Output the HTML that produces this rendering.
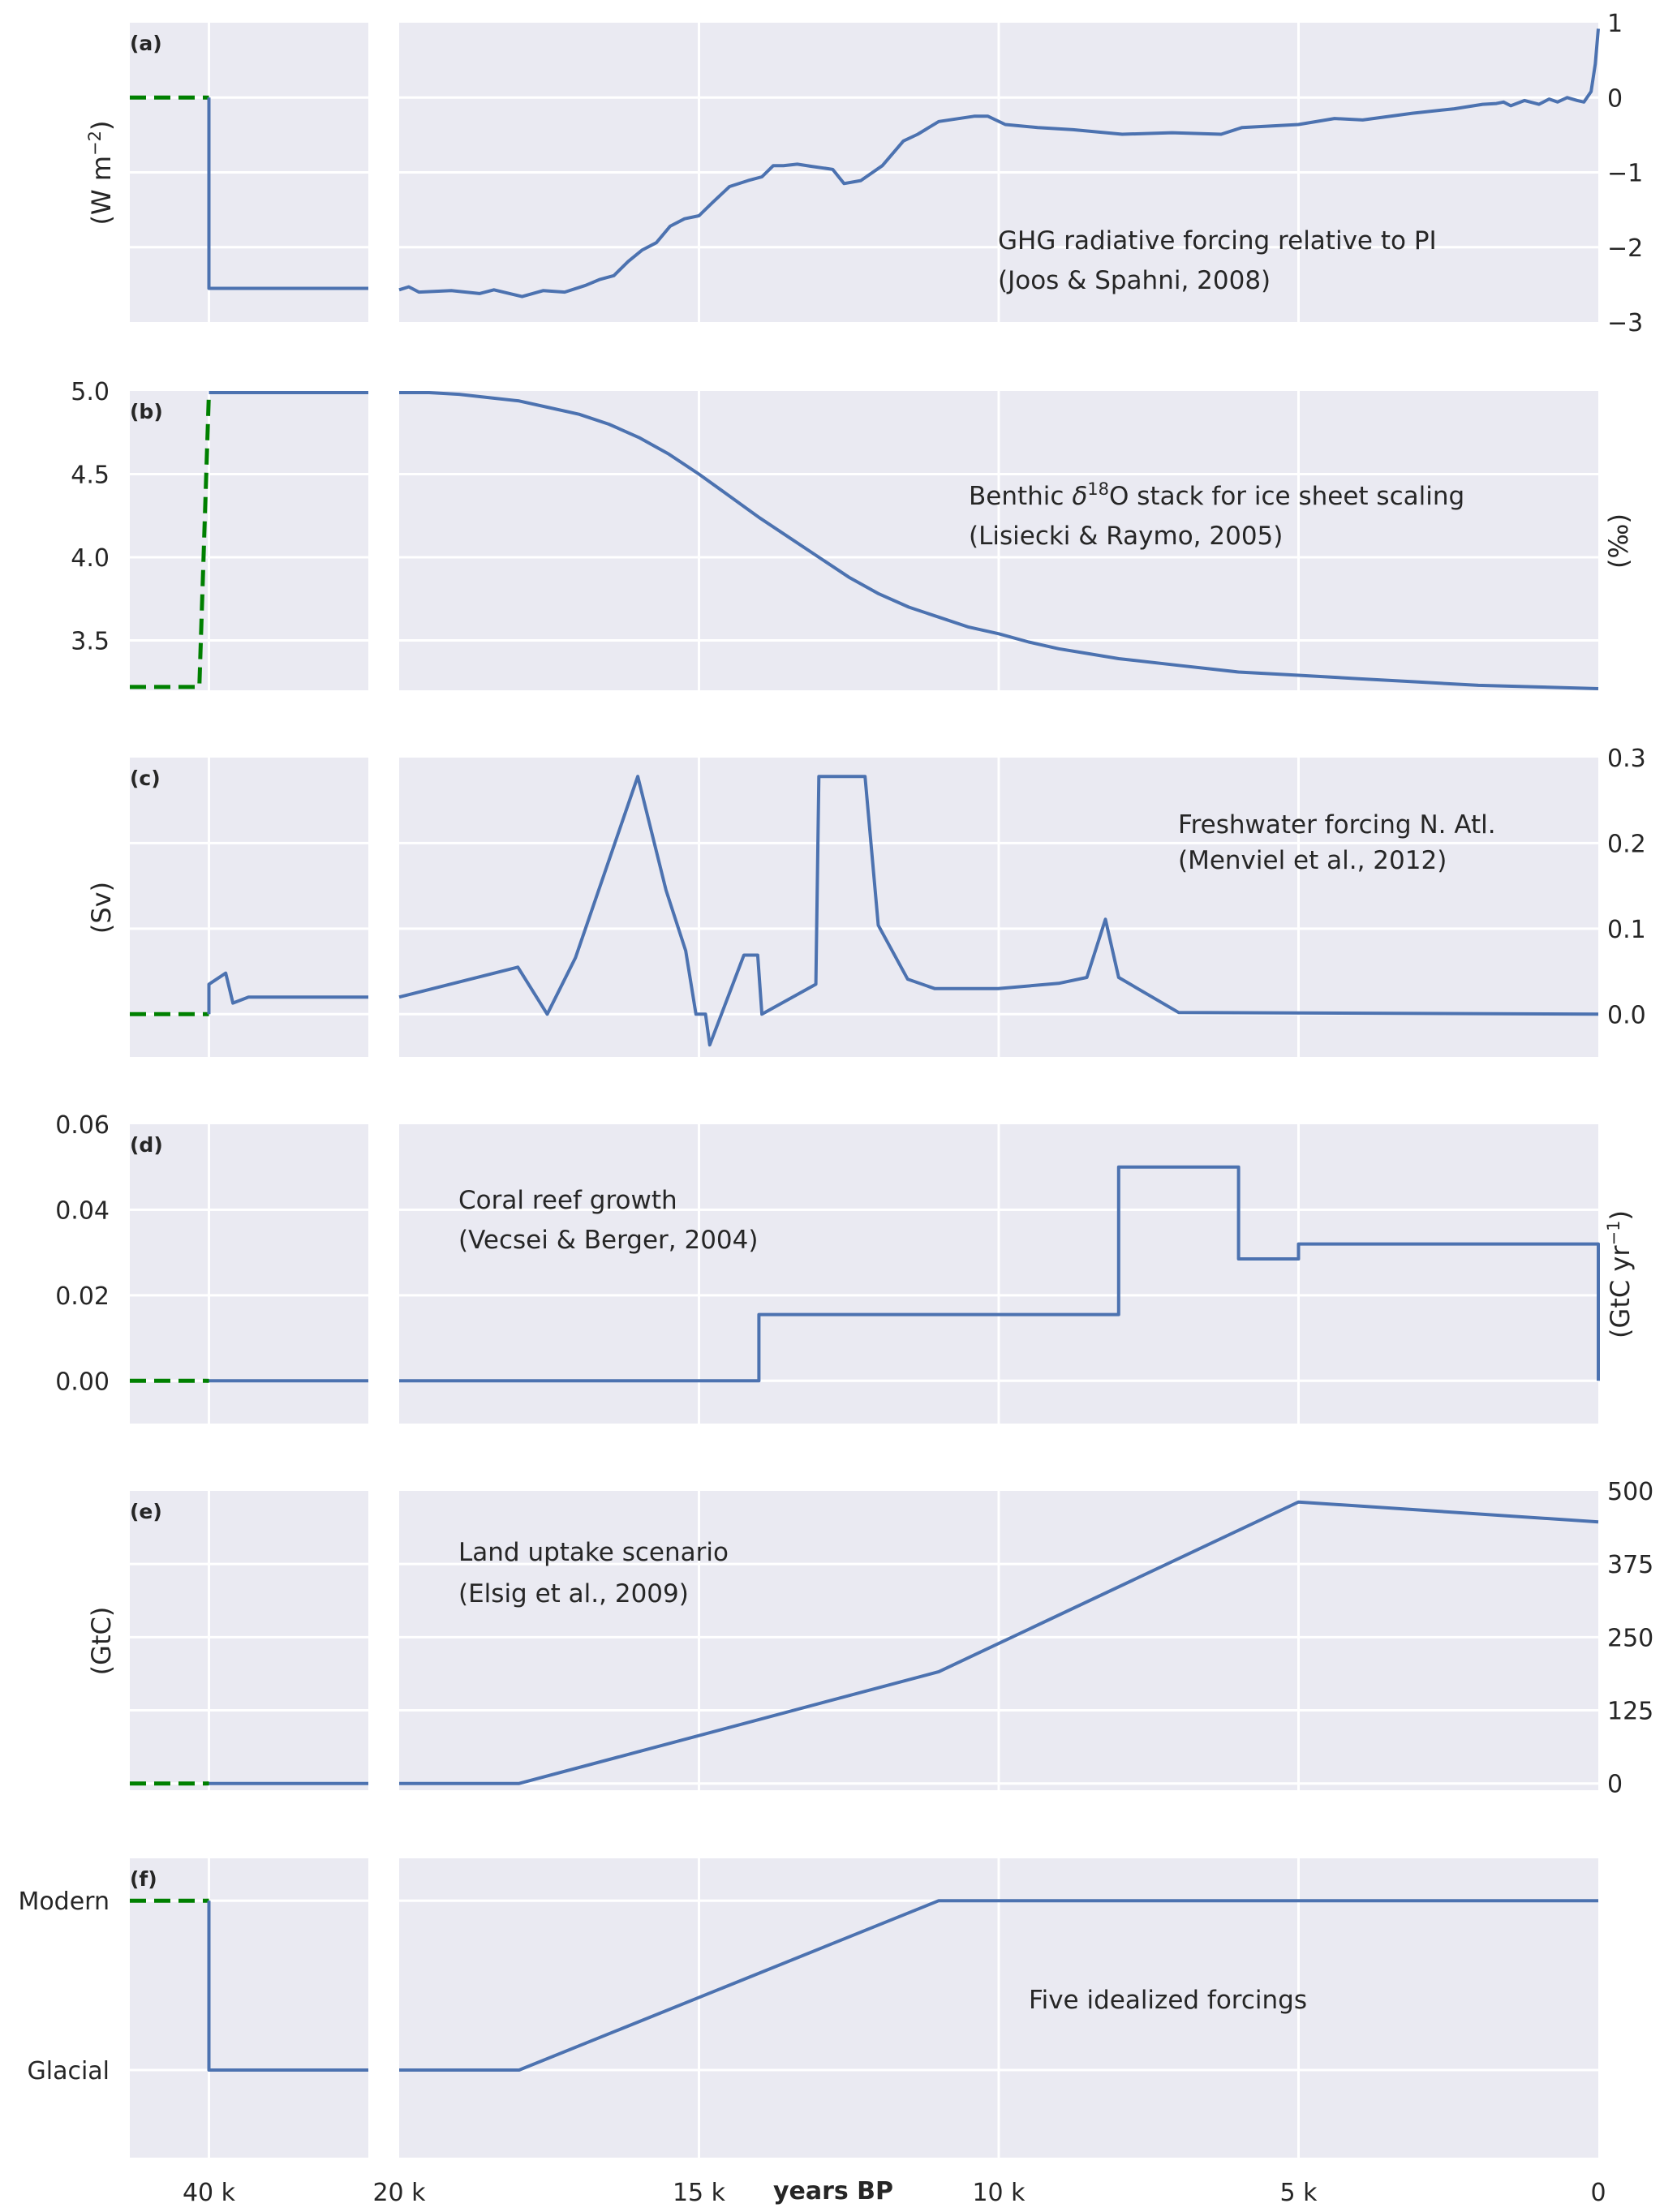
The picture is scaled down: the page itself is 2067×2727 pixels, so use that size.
<!DOCTYPE html>
<html><head><meta charset="utf-8"><style>
html,body{margin:0;padding:0;background:#fff}
svg text{font-family:"DejaVu Sans","Liberation Sans",sans-serif;fill:#262626}
</style></head><body>
<svg id="fig" xmlns="http://www.w3.org/2000/svg" width="2067" height="2727" viewBox="0 0 2067 2727" style="position:absolute;left:0;top:0"></svg>
<script>
// ---- data (time in kyr BP) ----
const ghgT = [20,19.84,19.67,19.13,18.66,18.42,17.95,17.6,17.24,16.89,16.65,16.42,16.18,15.95,15.71,15.48,15.24,15.0,14.77,14.49,14.18,13.95,13.76,13.59,13.36,13.12,12.77,12.58,12.3,11.94,11.59,11.35,11.0,10.41,10.18,9.89,9.35,8.76,7.94,7.11,6.29,5.94,5.0,4.4,3.93,3.1,2.4,1.93,1.7,1.58,1.46,1.23,0.99,0.82,0.68,0.52,0.35,0.24,0.12,0.05,0];
const ghgV = [-2.57,-2.53,-2.6,-2.58,-2.62,-2.57,-2.66,-2.58,-2.6,-2.51,-2.43,-2.38,-2.19,-2.04,-1.94,-1.72,-1.62,-1.58,-1.4,-1.19,-1.11,-1.06,-0.91,-0.91,-0.89,-0.92,-0.96,-1.15,-1.11,-0.91,-0.58,-0.49,-0.32,-0.25,-0.25,-0.36,-0.40,-0.43,-0.49,-0.47,-0.49,-0.40,-0.36,-0.28,-0.30,-0.21,-0.15,-0.09,-0.08,-0.06,-0.11,-0.04,-0.09,-0.02,-0.06,0,-0.04,-0.06,0.08,0.45,0.92];
const ghgLeftT = [40,40,37.34];
const ghgLeftV = [0,-2.55,-2.55];
const d18T = [20,19.5,19,18.5,18,17.5,17,16.5,16,15.5,15,14.5,14,13.5,13,12.5,12,11.5,11,10.5,10,9.5,9,8.5,8,7,6,5,4,3,2,1,0];
const d18V = [4.99,4.99,4.98,4.96,4.94,4.9,4.86,4.8,4.72,4.62,4.5,4.37,4.24,4.12,4.0,3.88,3.78,3.7,3.64,3.58,3.54,3.49,3.45,3.42,3.39,3.35,3.31,3.29,3.27,3.25,3.23,3.22,3.21];
const d18LeftDashT = [41.32,40.16,40];
const d18LeftDashV = [3.22,3.22,4.99];
const d18LeftT = [40,37.34];
const d18LeftV = [4.99,4.99];
const fwT = [20,18.02,17.53,17.06,16.02,15.55,15.22,15.05,14.89,14.82,14.25,14.02,13.95,13.05,13.0,12.23,12.01,11.52,11.07,10.01,9.0,8.53,8.22,8.0,7.0,0];
const fwV = [0.02,0.055,0,0.066,0.278,0.145,0.074,0,0,-0.036,0.069,0.069,0,0.035,0.278,0.278,0.104,0.041,0.03,0.03,0.036,0.043,0.111,0.043,0.002,0];
const fwLeftT = [40,40,39.72,39.6,39.34,37.34];
const fwLeftV = [0,0.035,0.048,0.013,0.02,0.02];
const coralT = [20,14,14,8,8,6,6,5,5,0,0];
const coralV = [0,0,0.0155,0.0155,0.05,0.05,0.0285,0.0285,0.032,0.032,0];
const coralLeftT = [40,37.34];
const coralLeftV = [0,0];
const landT = [20,18,11,5,0];
const landV = [0,0,191,481,447];
const landLeftT = [40,37.34];
const landLeftV = [0,0];
const iceT = [20,18,11,0];
const iceV = [0,0,1,1];
const iceLeftT = [40,40,37.34];
const iceLeftV = [1,0,0];
const xTickLabels = ["20 k","15 k","10 k","5 k","0"];
const xTickVals = [20,15,10,5,0];

// ---- layout ----
const NS="http://www.w3.org/2000/svg";
const svg=document.getElementById('fig');
const LX0=160, LX1=454, RX0=492, RX1=1970, PH=369;
const LT0=41.32, LT1=37.34;
function xR(t){return RX0+(20-t)/20*(RX1-RX0);}
function xL(t){return LX0+(LT0-t)/(LT0-LT1)*(LX1-LX0);}
function el(tag,attrs,parent){const e=document.createElementNS(NS,tag);for(const k in attrs)e.setAttribute(k,attrs[k]);(parent||svg).appendChild(e);return e;}
function txt(s,x,y,size,anchor,parent,weight){const t=el('text',{x:x,y:y,'font-size':size,'text-anchor':anchor||'start'},parent);if(weight)t.setAttribute('font-weight',weight);t.textContent=s;return t;}

const panels=[
 {id:'a',top:28,min:-3,max:1,grid:[-2,-1,0],ticks:[1,0,-1,-2,-3],tl:['1','0','\u22121','\u22122','\u22123'],side:'right'},
 {id:'b',top:482,min:3.2,max:5.0,grid:[3.5,4.0,4.5],ticks:[5.0,4.5,4.0,3.5],tl:['5.0','4.5','4.0','3.5'],side:'left'},
 {id:'c',top:934,min:-0.05,max:0.3,grid:[0,0.1,0.2],ticks:[0.3,0.2,0.1,0],tl:['0.3','0.2','0.1','0.0'],side:'right'},
 {id:'d',top:1386,min:-0.01,max:0.06,grid:[0,0.02,0.04],ticks:[0.06,0.04,0.02,0],tl:['0.06','0.04','0.02','0.00'],side:'left'},
 {id:'e',top:1838,min:-11.5,max:500,grid:[0,125,250,375],ticks:[500,375,250,125,0],tl:['500','375','250','125','0'],side:'right'},
 {id:'f',top:2291,min:-0.517,max:1.25,grid:[0,1],ticks:[1,0],tl:['Modern','Glacial'],side:'left'}
];
function yOf(p,v){return p.top+(p.max-v)/(p.max-p.min)*PH;}
function path(p,ts,vs,xf){return ts.map((t,i)=>(i?'L':'M')+xf(t).toFixed(1)+','+yOf(p,vs[i]).toFixed(1)).join(' ');}

panels.forEach(p=>{
  const g=el('g',{});
  
  
  const bl=el('rect',{x:LX0,y:p.top,width:LX1-LX0,height:PH,fill:'#eaeaf2'},g);
  
  
  const br=el('rect',{x:RX0,y:p.top,width:RX1-RX0,height:PH,fill:'#eaeaf2'},g);
  
  
  p.grid.forEach(v=>{const y=yOf(p,v);
    el('line',{x1:LX0,x2:LX1,y1:y,y2:y,stroke:'#fff','stroke-width':3},g);
    el('line',{x1:RX0,x2:RX1,y1:y,y2:y,stroke:'#fff','stroke-width':3},g);});
  el('line',{x1:xL(40),x2:xL(40),y1:p.top,y2:p.top+PH,stroke:'#fff','stroke-width':3},g);
  [15,10,5].forEach(t=>el('line',{x1:xR(t),x2:xR(t),y1:p.top,y2:p.top+PH,stroke:'#fff','stroke-width':3},g));
  p.ticks.forEach((v,i)=>{const y=yOf(p,v)+11;
    const t=p.side==='right'?txt(p.tl[i],1981,y,30,'start',g):txt(p.tl[i],135,y,30,'end',g);
    
    });
  const lab=txt('('+p.id+')',160,p.top+34,25,'start',g,'bold');
  
  
  p.g=g;
});
function series(pi,ts,vs,left,name,dashed){
  const p=panels[pi];
  const e=el('path',{d:path(p,ts,vs,left?xL:xR),fill:'none',stroke:dashed?'#008000':'#4c72b0','stroke-width':dashed?5:4,'stroke-linejoin':'round'},p.g);
  if(dashed)e.setAttribute('stroke-dasharray','20,10');
  
  
}
series(0,[41.32,40],[0,0],true,'ghg-preindustrial-dashed',true);
series(0,ghgLeftT,ghgLeftV,true,'ghg-left-line');
series(0,ghgT,ghgV,false,'ghg-line');
series(1,d18LeftDashT,d18LeftDashV,true,'d18o-dashed',true);
series(1,d18LeftT,d18LeftV,true,'d18o-left-line');
series(1,d18T,d18V,false,'d18o-line');
series(2,[41.32,40],[0,0],true,'freshwater-dashed',true);
series(2,fwLeftT,fwLeftV,true,'freshwater-left-line');
series(2,fwT,fwV,false,'freshwater-line');
series(3,[41.32,40],[0,0],true,'coral-dashed',true);
series(3,coralLeftT,coralLeftV,true,'coral-left-line');
series(3,coralT,coralV,false,'coral-line');
series(4,[41.32,40],[0,0],true,'land-dashed',true);
series(4,landLeftT,landLeftV,true,'land-left-line');
series(4,landT,landV,false,'land-line');
series(5,[41.32,40],[1,1],true,'ice-dashed',true);
series(5,iceLeftT,iceLeftV,true,'ice-left-line');
series(5,iceT,iceV,false,'ice-line');

const xt=txt('40 k',xL(40),2713,30,'middle');


xTickVals.forEach((v,i)=>{const t=txt(xTickLabels[i],xR(v),2713,30,'middle');
  
  });
const xl=txt('years BP',1027,2711,30,'middle',null,'bold');


</script>
<svg style="position:absolute;left:0;top:0" width="2067" height="2727">
 <g font-family="DejaVu Sans, Liberation Sans, sans-serif" fill="#262626" font-size="31">
  <text transform="translate(136,213) rotate(-90)" text-anchor="middle" font-size="32">(W m<tspan baseline-shift="super" font-size="21">−2</tspan>)</text>
  <text transform="translate(2006,667) rotate(-90)" text-anchor="middle" font-size="32">(‰)</text>
  <text transform="translate(136,1119) rotate(-90)" text-anchor="middle" font-size="32">(Sv)</text>
  <text transform="translate(2008,1571) rotate(-90)" text-anchor="middle" font-size="32">(GtC yr<tspan baseline-shift="super" font-size="21">−1</tspan>)</text>
  <text transform="translate(136,2023) rotate(-90)" text-anchor="middle" font-size="32">(GtC)</text>
  <text x="1230" y="307">GHG radiative forcing relative to PI</text>
  <text x="1230" y="356">(Joos &amp; Spahni, 2008)</text>
  <text x="1194" y="622">Benthic <tspan font-style="italic">δ</tspan><tspan baseline-shift="super" font-size="21">18</tspan>O stack for ice sheet scaling</text>
  <text x="1194" y="671">(Lisiecki &amp; Raymo, 2005)</text>
  <text x="1452" y="1027">Freshwater forcing N. Atl.</text>
  <text x="1452" y="1071">(Menviel et al., 2012)</text>
  <text x="565" y="1490">Coral reef growth</text>
  <text x="565" y="1539">(Vecsei &amp; Berger, 2004)</text>
  <text x="565" y="1924">Land uptake scenario</text>
  <text x="565" y="1975">(Elsig et al., 2009)</text>
  <text x="1268" y="2476">Five idealized forcings</text>
 </g>
</svg>
</body></html>
